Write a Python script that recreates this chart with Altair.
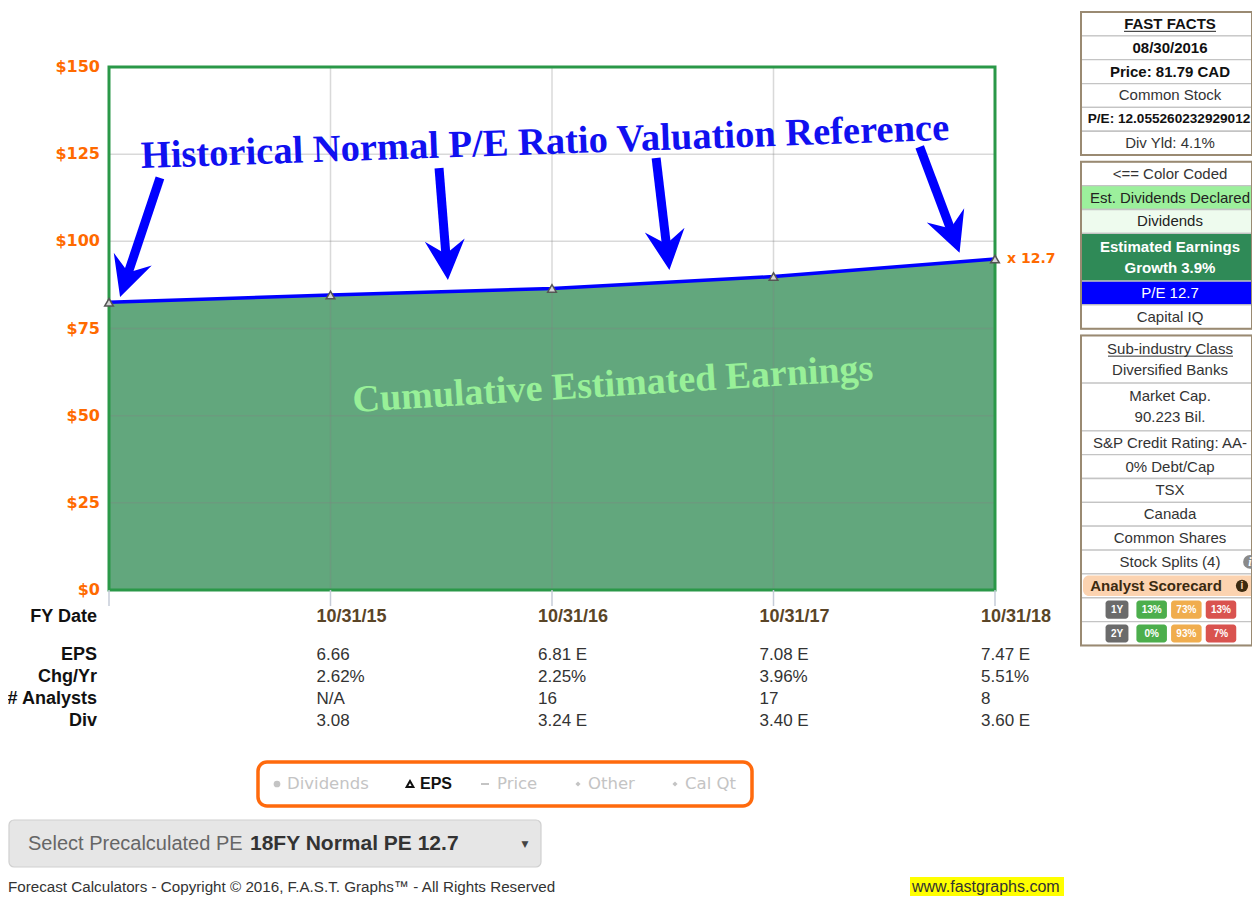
import math
import altair as alt
import pandas as pd

# ---------------- chart values ----------------
fy_dates = ["10/31/14", "10/31/15", "10/31/16", "10/31/17", "10/31/18"]
normal_pe_value = [82.5, 84.6, 86.5, 89.9, 94.9]      # EPS x normal P/E 12.7
y_ticks = [0, 25, 50, 75, 100, 125, 150]
table_rows = ["EPS", "Chg/Yr", "# Analysts", "Div"]
eps = ["6.66", "6.81 E", "7.08 E", "7.47 E"]
chg_yr = ["2.62%", "2.25%", "3.96%", "5.51%"]
analysts = ["N/A", "16", "17", "8"]
div = ["3.08", "3.24 E", "3.40 E", "3.60 E"]
pe_tag = "x 12.7"
title_note = "Historical Normal P/E Ratio Valuation Reference"
area_note = "Cumulative Estimated Earnings"
# annotation arrows (data coordinates: fiscal-year index, $ value)
arrow_tail_i = [0.23, 1.49, 2.47, 3.66]
arrow_tail_v = [118.2, 121.0, 123.9, 127.1]
arrow_tip_i = [0.05, 1.53, 2.53, 3.84]
arrow_tip_v = [84.0, 88.9, 91.8, 96.7]
legend_items = ["Dividends", "EPS", "Price", "Other", "Cal Qt"]
sidebar_boxes = [
    [("FAST FACTS", 1, "title"), ("08/30/2016", 1, "bold"), ("Price: 81.79 CAD", 1, "bold"),
     ("Common Stock", 1, "plain"), ("P/E: 12.055260232929012", 1, "boldsmall"), ("Div Yld: 4.1%", 1, "plain")],
    [("<== Color Coded", 1, "plain"), ("Est. Dividends Declared", 1, "ltgreen"), ("Dividends", 1, "paleg"),
     ("Estimated Earnings|Growth 3.9%", 2, "dkgreen"), ("P/E 12.7", 1, "blue"), ("Capital IQ", 1, "plain")],
    [("Sub-industry Class|Diversified Banks", 2, "plain"), ("Market Cap.|90.223 Bil.", 2, "plain"),
     ("S&P Credit Rating: AA-", 1, "plain"), ("0% Debt/Cap", 1, "plain"), ("TSX", 1, "plain"),
     ("Canada", 1, "plain"), ("Common Shares", 1, "plain"), ("Stock Splits (4)", 1, "plain"),
     ("Analyst Scorecard", 1, "score"), ("", 1, "badge"), ("", 1, "badge")],
]
score_periods = ["1Y", "2Y"]
score_up = ["13%", "0%"]
score_hold = ["73%", "93%"]
score_down = ["13%", "7%"]
select_label = "Select Precalculated PE "
select_value = "18FY Normal PE 12.7"
footer_text = "Forecast Calculators - Copyright © 2016, F.A.S.T. Graphs™ - All Rights Reserved"
site_text = "www.fastgraphs.com"

# ---------------- styles ----------------
W, H = 1244, 893
SANS = "Liberation Sans, Arial, sans-serif"
SERIF = "Liberation Serif, Times New Roman, serif"
VERD = "DejaVu Sans, Verdana, sans-serif"
ORANGE = "#ff6a00"
AREA = "#62a77d"
GREEN = "#2a9848"
BLUE = "#0000ff"
XR = [101, 987]
YR = [582, 59]
xs = alt.Scale(domain=[0, 4], range=XR, nice=False, zero=False)
ys = alt.Scale(domain=[0, 150], range=YR, nice=False, zero=False)
PX_I = (XR[1] - XR[0]) / 4.0
PX_V = (YR[0] - YR[1]) / 150.0


def X(f):
    return alt.X(f, scale=xs, axis=None)


def Y(f):
    return alt.Y(f, scale=ys, axis=None)


# ---------------- main plot ----------------
df_main = pd.DataFrame({"i": list(range(len(fy_dates))), "v": normal_pe_value, "fy": fy_dates})
df_ticks = pd.DataFrame({"t": y_ticks})

area = alt.Chart(df_main).mark_area(color=AREA, opacity=1).encode(
    x=X("i:Q"), y=Y("v:Q"), y2=alt.Y2Datum(0))
grid_h = alt.Chart(df_ticks).transform_filter("datum.t > 0 && datum.t < 150").transform_calculate(
    a="0", b="4").mark_rule(color="#808080", opacity=0.3, strokeWidth=1.5).encode(
    x=X("a:Q"), x2="b:Q", y=Y("t:Q"))
grid_v = alt.Chart(df_main).transform_filter("datum.i > 0 && datum.i < 4").transform_calculate(
    lo="0", hi="150").mark_rule(color="#808080", opacity=0.3, strokeWidth=1.5).encode(
    x=X("i:Q"), y=Y("lo:Q"), y2="hi:Q")
ticks = alt.Chart(df_main).transform_calculate(lo="0", hi="-4.6").mark_rule(
    color="#c6ccd8", strokeWidth=1.5).encode(x=X("i:Q"), y=Y("lo:Q"), y2="hi:Q")
frame = alt.Chart(pd.DataFrame({"a": [0], "b": [4], "lo": [0], "hi": [150]})).mark_rect(
    fillOpacity=0, stroke=GREEN, strokeWidth=3).encode(x=X("a:Q"), x2="b:Q", y=Y("lo:Q"), y2="hi:Q")
line = alt.Chart(df_main).mark_line(color=BLUE, strokeWidth=3.5).encode(x=X("i:Q"), y=Y("v:Q"))
pts = alt.Chart(df_main).mark_point(shape="triangle-up", filled=True, fill="#d4d4d4", stroke="#555555",
                                    strokeWidth=1.5, size=75, opacity=1).encode(x=X("i:Q"), y=Y("v:Q"))
ylabels = alt.Chart(df_ticks).transform_calculate(a="0", lbl="'$' + datum.t").mark_text(
    align="right", baseline="middle", dx=-9, font=VERD, fontWeight="bold", fontSize=16,
    color=ORANGE).encode(x=X("a:Q"), y=Y("t:Q"), text="lbl:N")
tag = alt.Chart(df_main.tail(1).assign(tag=pe_tag)).mark_text(
    align="left", baseline="middle", dx=12, font=VERD, fontWeight="bold", fontSize=14,
    color=ORANGE).encode(x=X("i:Q"), y=Y("v:Q"), text="tag:N")

# arrows
HEAD = 40.0
arr = []
for ti, tv, pi, pv in zip(arrow_tail_i, arrow_tail_v, arrow_tip_i, arrow_tip_v):
    dx = (pi - ti) * PX_I
    dy = -(pv - tv) * PX_V
    L = math.hypot(dx, dy)
    ux, uy = dx / L, dy / L
    ci = pi - ux * (HEAD / 2) / PX_I
    cv = pv + uy * (HEAD / 2) / PX_V
    ang = math.degrees(math.atan2(-ux, uy)) % 360
    arr.append(dict(ti=ti, tv=tv, ci=ci, cv=cv, ang=ang))
df_arr = pd.DataFrame(arr)
shafts = alt.Chart(df_arr).mark_rule(color=BLUE, strokeWidth=9, strokeCap="butt").encode(
    x=X("ti:Q"), y=Y("tv:Q"), x2="ci:Q", y2="cv:Q")
heads = alt.Chart(df_arr).mark_point(shape="M0,1L-1,-1L0,-0.3L1,-1Z", filled=True, color=BLUE,
                                     opacity=1, size=HEAD * HEAD, strokeWidth=0).encode(
    x=X("ci:Q"), y=Y("cv:Q"), angle=alt.Angle("ang:Q", scale=None))

note1 = alt.Chart(pd.DataFrame({"i": [1.968], "v": [128.5], "t": [title_note]})).mark_text(
    align="center", baseline="middle", font=SERIF, fontWeight="bold", fontSize=38.5, color="#1010f0",
    angle=358).encode(x=X("i:Q"), y=Y("v:Q"), text="t:N")
note2 = alt.Chart(pd.DataFrame({"i": [2.275], "v": [58.8], "t": [area_note]})).mark_text(
    align="center", baseline="middle", font=SERIF, fontWeight="bold", fontSize=38, color="#98f098",
    angle=356.5).encode(x=X("i:Q"), y=Y("v:Q"), text="t:N")

main = alt.layer(area, grid_h, grid_v, frame, ticks, line, pts, ylabels, tag, shafts, heads, note1, note2)

# ---------------- table ----------------
rs = alt.Scale(domain=[0, 3], range=[647, 713], nice=False, zero=False)
tbl = []
for r, vals in enumerate([eps, chg_yr, analysts, div]):
    for k, t in enumerate(vals):
        tbl.append(dict(i=k + 1, r=r, txt=t))
df_tbl = pd.DataFrame(tbl)
tbl_vals = alt.Chart(df_tbl).mark_text(align="left", baseline="middle", dx=-14, font=SANS, fontSize=17,
                                       color="#333333").encode(
    x=alt.X("i:Q", scale=xs, axis=None), y=alt.Y("r:Q", scale=rs, axis=None), text="txt:N")
df_rl = pd.DataFrame({"r": list(range(len(table_rows))), "name": table_rows, "i": 0})
tbl_labels = alt.Chart(df_rl).mark_text(align="right", baseline="middle", dx=-12, font=SANS, fontSize=18,
                                        fontWeight="bold", color="#111111").encode(
    x=alt.X("i:Q", scale=xs, axis=None), y=alt.Y("r:Q", scale=rs, axis=None), text="name:N")
dates = alt.Chart(df_main).transform_filter("datum.i > 0").mark_text(
    align="left", baseline="middle", dx=-14, font=SANS, fontSize=18, fontWeight="bold",
    color="#5a4527").encode(x=alt.X("i:Q", scale=xs, axis=None), y=alt.value(609), text="fy:N")
fy_lab = alt.Chart(pd.DataFrame({"i": [0], "t": ["FY Date"]})).mark_text(
    align="right", baseline="middle", dx=-12, font=SANS, fontSize=18, fontWeight="bold",
    color="#111111").encode(x=alt.X("i:Q", scale=xs, axis=None), y=alt.value(609), text="t:N")
table = alt.layer(tbl_vals, tbl_labels, dates, fy_lab)

# ---------------- sidebar ----------------
U = 23.85
GAP = 0.28
LH = 21
cells, boxes = [], []
slot = 0.0
for box in sidebar_boxes:
    start = slot
    for txt, span, style in box:
        n = txt.count("|") + 1
        cells.append(dict(txt=txt, y0=slot, y1=slot + span, yc=slot + span / 2.0,
                          yt=slot + span / 2.0 - (n - 1) * 0.5 * LH / U, style=style))
        slot += span
    boxes.append(dict(y0=start, y1=slot))
    slot += GAP
total = slot - GAP
sys_ = alt.Scale(domain=[0, total], range=[4, 4 + total * U], nice=False, zero=False)
fills = {"title": "#ffffff", "bold": "#ffffff", "boldsmall": "#ffffff", "plain": "#ffffff",
         "ltgreen": "#9cf09c", "paleg": "#eefbee", "dkgreen": "#2f8a57", "blue": "#0000ff",
         "score": "#ffffff", "badge": "#ffffff"}
tcolor = {"title": "#111111", "bold": "#111111", "boldsmall": "#111111", "plain": "#333333",
          "ltgreen": "#222222", "paleg": "#222222", "dkgreen": "#ffffff", "blue": "#ffffff",
          "score": "#3b2a10", "badge": "#333333"}
bold_styles = {"title", "bold", "dkgreen"}
df_cells = pd.DataFrame(cells)
df_cells["fill"] = df_cells["style"].map(fills)
df_cells["tc"] = df_cells["style"].map(tcolor)


def SY(f):
    return alt.Y(f, scale=sys_, axis=None)


sb_rects = alt.Chart(df_cells).mark_rect(stroke="#c4c4c4", strokeWidth=1.3).encode(
    x=alt.value(1073), x2=alt.value(1244), y=SY("y0:Q"), y2="y1:Q", fill=alt.Fill("fill:N", scale=None))
sb_boxes = alt.Chart(pd.DataFrame(boxes)).mark_rect(fillOpacity=0, stroke="#9a8a72", strokeWidth=2).encode(
    x=alt.value(1073), x2=alt.value(1244), y=SY("y0:Q"), y2="y1:Q")
score_cells = df_cells[df_cells["style"] == "score"].copy()
score_cells["a"] = score_cells["y0"] + 0.07
score_cells["b"] = score_cells["y1"] - 0.07
sb_peach = alt.Chart(score_cells).mark_rect(fill="#fcd3b0", cornerRadius=6).encode(
    x=alt.value(1075), x2=alt.value(1251), y=SY("a:Q"), y2="b:Q")
txt_cells = df_cells[(df_cells["txt"] != "") & (df_cells["style"] != "score")]
sb_text_plain = alt.Chart(txt_cells[~txt_cells["style"].isin(bold_styles | {"boldsmall"})]).mark_text(
    align="center", baseline="middle", font=SANS, fontSize=15, lineBreak="|", lineHeight=LH).encode(
    x=alt.value(1162), y=SY("yt:Q"), text="txt:N", color=alt.Color("tc:N", scale=None))
sb_text_bold = alt.Chart(txt_cells[txt_cells["style"].isin(bold_styles)]).mark_text(
    align="center", baseline="middle", font=SANS, fontSize=15, fontWeight="bold", lineBreak="|",
    lineHeight=LH).encode(x=alt.value(1162), y=SY("yt:Q"), text="txt:N",
                          color=alt.Color("tc:N", scale=None))
sb_text_small = alt.Chart(txt_cells[txt_cells["style"] == "boldsmall"]).mark_text(
    align="center", baseline="middle", font=SANS, fontSize=13.6, fontWeight="bold",
    color="#111111").encode(x=alt.value(1161), y=SY("yt:Q"), text="txt:N")
sb_score_text = alt.Chart(score_cells).mark_text(
    align="center", baseline="middle", font=SANS, fontSize=15, fontWeight="bold", color="#3b2a10").encode(
    x=alt.value(1148), y=SY("yc:Q"), text="txt:N")
sb_score_icon = alt.Chart(score_cells).mark_point(shape="circle", filled=True, color="#3b2a10", size=150,
                                                 opacity=1).encode(x=alt.value(1234), y=SY("yc:Q"))
sb_score_i = alt.Chart(score_cells.assign(i="i")).mark_text(
    align="center", baseline="middle", font=SANS, fontSize=10, fontWeight="bold", color="#fcd3b0").encode(
    x=alt.value(1234), y=SY("yc:Q"), text="i:N")
split_cells = df_cells[df_cells["txt"].str.startswith("Stock Splits")].copy()
sb_split_icon = alt.Chart(split_cells).mark_point(shape="circle", filled=True, color="#8a8a8a", size=190,
                                                 opacity=1).encode(x=alt.value(1242), y=SY("yc:Q"))
sb_split_i = alt.Chart(split_cells.assign(i="i")).mark_text(
    align="center", baseline="middle", font=SERIF, fontSize=12, fontStyle="italic", fontWeight="bold",
    color="#ffffff").encode(x=alt.value(1242), y=SY("yc:Q"), text="i:N")
# underlines
ul_title = df_cells[df_cells["style"] == "title"].assign(u=lambda d: d["yt"] + 0.31)
ul_sub = df_cells[df_cells["txt"].str.startswith("Sub-industry")].assign(u=lambda d: d["yt"] + 0.31)
sb_ul1 = alt.Chart(ul_title).mark_rule(color="#222222", strokeWidth=1).encode(
    x=alt.value(1116), x2=alt.value(1208), y=SY("u:Q"))
sb_ul2 = alt.Chart(ul_sub).mark_rule(color="#333333", strokeWidth=1).encode(
    x=alt.value(1100), x2=alt.value(1225), y=SY("u:Q"))
# badges
badge_rows = [c for c in cells if c["style"] == "badge"]
bd = []
for k, c in enumerate(badge_rows):
    vals = [(score_periods[k], "#6b6b6b", 0.33), (score_up[k], "#4cae4c", 0.44),
            (score_hold[k], "#f0ad4e", 0.44), (score_down[k], "#d9534f", 0.44)]
    for col, (t, colr, w) in enumerate(vals):
        bd.append(dict(col=col, t=t, c=colr, a=col - w, b=col + w, ya=c["yc"] - 0.38, yb=c["yc"] + 0.38,
                       yc=c["yc"]))
df_bd = pd.DataFrame(bd)
bxs = alt.Scale(domain=[0, 3], range=[1109, 1213], nice=False, zero=False)
badge_rect = alt.Chart(df_bd).mark_rect(cornerRadius=3).encode(
    x=alt.X("a:Q", scale=bxs, axis=None), x2="b:Q", y=SY("ya:Q"), y2="yb:Q",
    fill=alt.Fill("c:N", scale=None))
badge_text = alt.Chart(df_bd).mark_text(align="center", baseline="middle", font=SANS, fontSize=10,
                                        fontWeight="bold", color="#ffffff").encode(
    x=alt.X("col:Q", scale=bxs, axis=None), y=SY("yc:Q"), text="t:N")
sidebar = alt.layer(sb_rects, sb_peach, sb_boxes, sb_text_plain, sb_text_bold, sb_text_small, sb_score_text,
                    sb_score_icon, sb_score_i, sb_split_icon, sb_split_i, sb_ul1, sb_ul2, badge_rect, badge_text)

# ---------------- legend / select / footer ----------------
one = pd.DataFrame({"k": [0]})
misc = []
misc.append(alt.Chart(one).mark_rect(fill="#ffffff", stroke="#ff6a0d", strokeWidth=3.5, cornerRadius=9).encode(
    x=alt.value(250), x2=alt.value(744), y=alt.value(754), y2=alt.value(798)))
leg_x = [279, 412, 489, 580, 677]
leg_sym = ["circle", "triangle-up", "stroke", "diamond", "diamond"]
for k, name in enumerate(legend_items):
    active = name == "EPS"
    col = "#111111" if active else "#c4c4c4"
    sym_size = 45 if leg_sym[k] in ("circle", "triangle-up") else 26
    if leg_sym[k] == "stroke":
        misc.append(alt.Chart(one).mark_rule(color=col, strokeWidth=2).encode(
            x=alt.value(leg_x[k] - 16), x2=alt.value(leg_x[k] - 8), y=alt.value(776)))
    else:
        misc.append(alt.Chart(one).mark_point(shape=leg_sym[k], filled=not active, color=col, size=sym_size,
                                              opacity=1, strokeWidth=2).encode(
            x=alt.value(leg_x[k] - 10), y=alt.value(776)))
    misc.append(alt.Chart(one).mark_text(
        text=name, align="left", baseline="middle", font=VERD if not active else SANS,
        fontSize=16.5 if not active else 16, fontWeight="bold" if active else "normal", color=col).encode(
        x=alt.value(leg_x[k]), y=alt.value(776)))
misc.append(alt.Chart(one).mark_rect(fill="#e6e6e6", stroke="#d0d0d0", strokeWidth=1.2, cornerRadius=5).encode(
    x=alt.value(1), x2=alt.value(533), y=alt.value(812), y2=alt.value(859)))
misc.append(alt.Chart(one).mark_text(text=select_label, align="left", baseline="middle", font=SANS,
                                     fontSize=20, color="#666666").encode(x=alt.value(20), y=alt.value(836)))
misc.append(alt.Chart(one).mark_text(text=select_value, align="left", baseline="middle", font=SANS,
                                     fontSize=21, fontWeight="bold", color="#333333").encode(
    x=alt.value(242), y=alt.value(836)))
misc.append(alt.Chart(one).mark_text(text="▼", align="center", baseline="middle", font=VERD,
                                     fontSize=9, color="#444444").encode(x=alt.value(517), y=alt.value(836)))
misc.append(alt.Chart(one).mark_text(text=footer_text, align="left", baseline="middle", font=SANS,
                                     fontSize=15.2, color="#333333").encode(x=alt.value(0), y=alt.value(879)))
misc.append(alt.Chart(one).mark_rect(fill="#ffff00").encode(
    x=alt.value(902), x2=alt.value(1056), y=alt.value(869), y2=alt.value(888)))
misc.append(alt.Chart(one).mark_text(text=site_text, align="left", baseline="middle", font=SANS,
                                     fontSize=16, color="#333333").encode(x=alt.value(904), y=alt.value(879)))

chart = alt.layer(main, table, sidebar, *misc).resolve_scale(
    x="independent", y="independent").properties(
    width=W, height=H, padding=0, autosize=alt.AutoSizeParams(type="none"), background="white"
).configure_view(stroke=None)

chart.save("out.html", embed_options={"renderer": "svg", "actions": False})
